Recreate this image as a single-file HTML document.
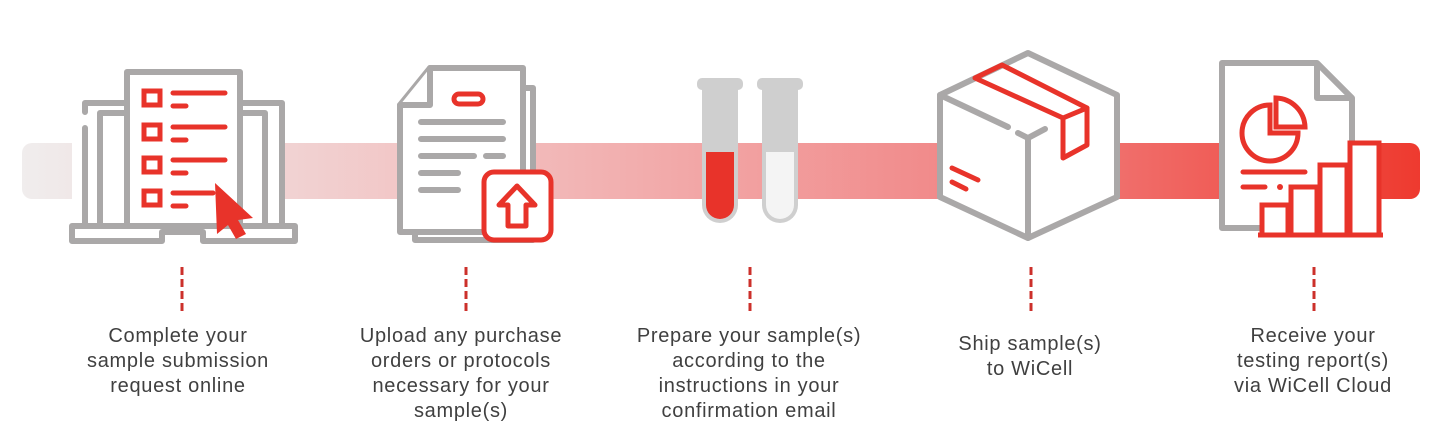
<!DOCTYPE html>
<html><head><meta charset="utf-8"><style>
html,body{margin:0;padding:0;background:#fff;}
svg{display:block;}
text{font-family:"Liberation Sans",sans-serif;font-size:20px;letter-spacing:0.7px;fill:#404040;}
</style></head><body>
<svg width="1429" height="447" viewBox="0 0 1429 447" xmlns="http://www.w3.org/2000/svg">
<defs>
<linearGradient id="bg" x1="0" x2="1" y1="0" y2="0">
<stop offset="0" stop-color="#f0eded"/>
<stop offset="0.35" stop-color="#f2bcbc"/>
<stop offset="0.7" stop-color="#f18383"/>
<stop offset="1" stop-color="#ee3a2f"/>
</linearGradient>
</defs>
<rect x="22" y="143" width="1398" height="56" rx="10" fill="url(#bg)"/>

<!-- Icon 1 laptop -->
<g fill="none" stroke="#aaa8a8" stroke-width="6" stroke-linecap="round" stroke-linejoin="round">
<rect x="72" y="100" width="210" height="130" fill="#fff" stroke="none"/>
<path d="M85 128 V223 M85 112 V103 H282 V223"/>
<path d="M100 223 V113 H265 V223" fill="#fff"/>
<rect x="127" y="72" width="113" height="160" fill="#fff"/>
<path d="M72 226 H295 V241 H203 V232 H162 V241 H72 Z" fill="#fff"/>
</g>
<g fill="none" stroke="#e8332a" stroke-width="5" stroke-linecap="round">
<rect x="144" y="91" width="16" height="14"/><rect x="144" y="125" width="16" height="14"/>
<rect x="144" y="158" width="16" height="14"/><rect x="144" y="191" width="16" height="14"/>
<path d="M173 93 H225 M173 106 H186 M173 127 H225 M173 140 H186 M173 160 H225 M173 173 H186 M173 193 H213 M173 206 H186"/>
</g>
<path d="M215 183 L253 218 L238 220 L246 234 L236 239 L228 225 L217 234 Z" fill="#e8332a"/>

<!-- Icon 2 documents -->
<g fill="#fff" stroke="#aaa8a8" stroke-width="6" stroke-linejoin="round" stroke-linecap="round">
<path d="M415 88 H533 V240 H415 Z"/>
<path d="M430 68 H523 V232 H400 V105 Z"/>
<path d="M400 105 H430 V68"/>
</g>
<g stroke="#aaa8a8" stroke-width="6" stroke-linecap="round">
<path d="M421 122 H503 M421 139 H503 M421 156 H474 M486 156 H503 M421 173 H458 M421 190 H458"/>
</g>
<rect x="454" y="94" width="29" height="10" rx="5" fill="none" stroke="#e8332a" stroke-width="5"/>
<rect x="484" y="172" width="67" height="68" rx="10" fill="#fff" stroke="#e8332a" stroke-width="5"/>
<path d="M517 186 L535 205 H526 V226 H508 V205 H499 Z" fill="none" stroke="#e8332a" stroke-width="5" stroke-linejoin="round"/>

<!-- Icon 3 tubes -->
<rect x="697" y="78" width="46" height="12" rx="5" fill="#cfcfcf"/>
<path d="M702 85 H738 V205 A18 18 0 0 1 702 205 Z" fill="#cfcfcf"/>
<path d="M706 152 H734 V205 A14 14 0 0 1 706 205 Z" fill="#e8332a"/>
<rect x="757" y="78" width="46" height="12" rx="5" fill="#cfcfcf"/>
<path d="M762 85 H798 V205 A18 18 0 0 1 762 205 Z" fill="#cfcfcf"/>
<path d="M766 152 H794 V205 A14 14 0 0 1 766 205 Z" fill="#f4f4f4"/>

<!-- Icon 4 box -->
<path d="M1028 53 L940 95 V197 L1028 238 L1117 197 V95 Z" fill="#fff" stroke="#aaa8a8" stroke-width="6" stroke-linejoin="round"/>
<g fill="none" stroke="#aaa8a8" stroke-width="6" stroke-linecap="round" stroke-linejoin="round">
<path d="M940 95 L1008 127 M1018 133 L1028 138 L1045 129 M1028 138 V238"/>
</g>
<g fill="none" stroke="#e8332a" stroke-width="5" stroke-linejoin="round" stroke-linecap="round">
<path d="M975 78 L1002 65 L1087 108 L1063 118 Z"/>
<path d="M1063 118 V158 L1087 145 V108"/>
<path d="M952 168 L978 180 M952 182 L966 189"/>
</g>

<!-- Icon 5 report -->
<path d="M1222 63 H1317 L1352 98 V228 H1222 Z" fill="#fff" stroke="#aaa8a8" stroke-width="6" stroke-linejoin="round"/>
<path d="M1317 63 V98 H1352" fill="none" stroke="#aaa8a8" stroke-width="6" stroke-linejoin="round"/>
<g fill="none" stroke="#e8332a" stroke-width="5" stroke-linecap="round">
<path d="M1270 105 A28 28 0 1 0 1298 133 H1270 Z"/>
<path d="M1276 98 A30 30 0 0 1 1305 127 H1276 Z"/>
<path d="M1243 172 H1305 M1243 187 H1265"/>
</g>
<circle cx="1280" cy="187" r="3" fill="#e8332a"/>
<g fill="#fff" stroke="#e8332a" stroke-width="5">
<rect x="1262" y="205" width="26" height="30"/>
<rect x="1291" y="187" width="26" height="48"/>
<rect x="1320" y="165" width="27" height="70"/>
<rect x="1350" y="143" width="29" height="92"/>
</g>
<path d="M1258 235 H1383" stroke="#e8332a" stroke-width="5"/>

<!-- dashed connectors -->
<g stroke="#cc302b" stroke-width="3" stroke-dasharray="8 4">
<path d="M182 267 V312 M466 267 V312 M750 267 V312 M1031 267 V312 M1314 267 V312"/>
</g>

<g text-anchor="middle">
<text x="178" y="342">Complete your</text>
<text x="178" y="367">sample submission</text>
<text x="178" y="392">request online</text>
<text x="461" y="342">Upload any purchase</text>
<text x="461" y="367">orders or protocols</text>
<text x="461" y="392">necessary for your</text>
<text x="461" y="417">sample(s)</text>
<text x="749" y="342">Prepare your sample(s)</text>
<text x="749" y="367">according to the</text>
<text x="749" y="392">instructions in your</text>
<text x="749" y="417">confirmation email</text>
<text x="1030" y="350">Ship sample(s)</text>
<text x="1030" y="375">to WiCell</text>
<text x="1313" y="342">Receive your</text>
<text x="1313" y="367">testing report(s)</text>
<text x="1313" y="392">via WiCell Cloud</text>
</g>
</svg>
</body></html>
